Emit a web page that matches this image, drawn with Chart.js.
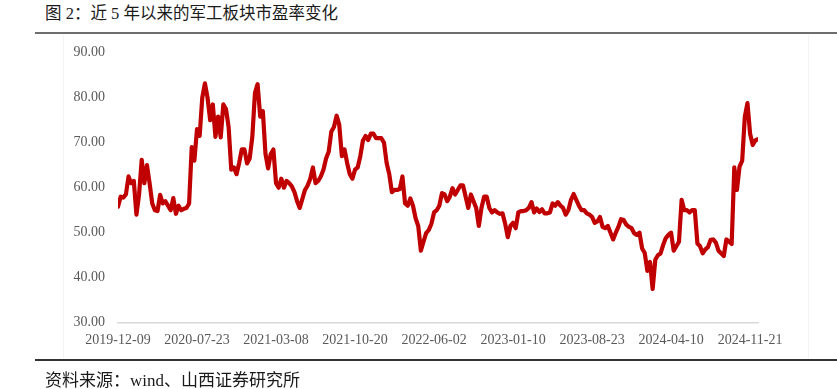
<!DOCTYPE html>
<html>
<head>
<meta charset="utf-8">
<script src="https://cdn.jsdelivr.net/npm/chart.js@4"></script>
<style>
  body { margin: 0; background: #fff; }
  #wrap { position: relative; width: 837px; height: 389px; overflow: hidden; }
  .cn { position: absolute; left: 45px; font-family: "Liberation Serif", "Noto Sans CJK SC", serif; color: #1a1a1a; white-space: nowrap; line-height: 1; }
  #title { top: 6px; font-size: 16.5px; }
  #source { top: 372px; font-size: 17px; }
  .rule { position: absolute; left: 35px; right: 0; }
  #topRule { top: 32px; height: 2px; background: #6e6e6e; }
  #bottomRule { top: 359px; height: 2px; background: #333; }
  #frame { position: absolute; left: 63px; top: 35px; width: 744px; height: 323px; border-left: 1px solid #f3f3f3; border-right: 1px solid #f3f3f3; }
  canvas { position: absolute; left: 0; top: 0; }
</style>
</head>
<body>
<div id="wrap">
  <div id="title" class="cn">图 2：近 5 年以来的军工板块市盈率变化</div>
  <div id="topRule" class="rule"></div>
  <div id="frame"></div>
  <canvas id="chart" width="837" height="389"></canvas>
  <div id="bottomRule" class="rule"></div>
  <div id="source" class="cn">资料来源：wind、山西证券研究所</div>
</div>
<script>
// weekly-ish readings of the sector P/E, 2019-12-09 .. 2024-12
const peValues = [
  55.8, 58.0, 57.8, 58.5, 62.5, 61.0, 61.5, 54.0, 58.5, 66.2,
  61.0, 65.0, 61.0, 56.5, 55.0, 54.8, 58.4, 56.5, 57.0, 56.0,
  55.0, 57.7, 54.2, 56.0, 55.0, 55.3, 55.5, 56.5, 69.0, 66.0,
  73.0, 71.5, 80.0, 83.2, 80.0, 75.0, 78.5, 71.3, 75.8, 71.2,
  78.5, 77.5, 73.5, 64.0, 64.5, 63.0, 65.5, 68.5, 68.5, 65.4,
  66.5, 71.3, 81.0, 83.0, 75.8, 77.0, 67.5, 64.3, 67.5, 68.5,
  61.0, 60.0, 62.0, 60.0, 61.5, 61.0, 60.3, 59.0, 57.0, 55.5,
  57.5, 59.5, 60.5, 62.0, 64.5, 61.0, 61.5, 62.5, 64.0, 66.5,
  68.0, 72.5, 73.5, 76.0, 74.0, 67.0, 68.5, 65.5, 63.0, 62.0,
  64.0, 64.5, 67.0, 70.5, 71.5, 70.6, 72.0, 72.0, 71.0, 71.0,
  71.0, 70.0, 65.5, 63.0, 59.0, 59.5, 59.5, 59.7, 62.5, 56.5,
  56.0, 57.6, 56.0, 53.2, 51.5, 46.0, 48.0, 49.9, 50.6, 52.0,
  54.5, 55.0, 56.0, 58.8, 58.5, 57.0, 58.0, 59.9, 58.5, 59.5,
  60.5, 60.5, 58.0, 55.5, 58.5, 57.0, 55.5, 51.5, 55.5, 58.0,
  58.0, 55.5, 54.5, 55.0, 54.5, 54.2, 54.3, 52.0, 49.0, 51.5,
  52.2, 51.0, 54.5, 54.8, 54.8, 55.0, 55.5, 56.8, 54.5, 55.4,
  54.6, 55.2, 54.3, 54.3, 54.5, 56.5, 56.0, 56.8, 56.0, 55.5,
  54.0, 55.0, 57.3, 58.6, 57.3, 56.0, 55.0, 55.0, 54.3, 54.0,
  53.5, 52.2, 52.5, 53.5, 51.3, 51.0, 51.5, 50.0, 48.5, 50.0,
  51.3, 53.0, 52.8, 51.8, 51.3, 51.0, 49.9, 49.5, 50.0, 46.5,
  45.5, 41.5, 43.5, 37.5, 44.0, 45.0, 45.4, 47.3, 48.8, 49.5,
  50.0, 46.0, 47.0, 48.0, 57.3, 55.0, 55.0, 54.5, 55.0, 55.0,
  47.6, 47.0, 45.4, 46.3, 46.8, 48.4, 48.5, 47.8, 46.0, 45.4,
  44.8, 48.5, 48.0, 47.5, 64.5, 59.5, 64.7, 66.0, 75.8, 78.8,
  72.0, 69.5, 70.5, 70.8
];

const dateLabels = [
  '2019-12-09', '2020-07-23', '2021-03-08', '2021-10-20', '2022-06-02',
  '2023-01-10', '2023-08-23', '2024-04-10', '2024-11-21'
];
const labelEvery = 30;

const yTicks = [30, 40, 50, 60, 70, 80, 90];

const tickFont = { family: '"Liberation Serif", "Times New Roman", serif', size: 14 };

const points = peValues.map((v, i) => ({ x: i, y: v }));

new Chart(document.getElementById('chart'), {
  type: 'line',
  data: {
    datasets: [
      {
        label: '市盈率',
        data: points,
        borderColor: '#c00000',
        borderWidth: 4.2,
        pointRadius: 0,
        tension: 0,
        borderJoinStyle: 'round',
        borderCapStyle: 'round',
      },
    ],
  },
  options: {
    responsive: false,
    animation: false,
    layout: { padding: { top: 52.7, right: 79, bottom: 0, left: 0 } },
    plugins: { legend: { display: false }, tooltip: { enabled: false } },
    scales: {
      x: {
        type: 'linear',
        min: 0,
        max: peValues.length - 1,
        afterFit: (s) => { s.height = 389 - 322.7; },
        grid: { display: false, drawTicks: false },
        border: { display: true, color: '#d9d9d9', width: 1.5 },
        ticks: {
          stepSize: labelEvery,
          includeBounds: false,
          autoSkip: false,
          maxRotation: 0,
          padding: 9,
          color: '#595959',
          font: tickFont,
          callback: (value) => dateLabels[value / labelEvery] || '',
        },
      },
      y: {
        min: yTicks[0],
        max: yTicks[yTicks.length - 1],
        afterFit: (s) => { s.width = 118; },
        grid: { display: false, drawTicks: false },
        border: { display: false },
        ticks: {
          stepSize: 10,
          padding: 13,
          color: '#595959',
          font: tickFont,
          callback: (value) => value.toFixed(2),
        },
      },
    },
  },
});
</script>
</body>
</html>
